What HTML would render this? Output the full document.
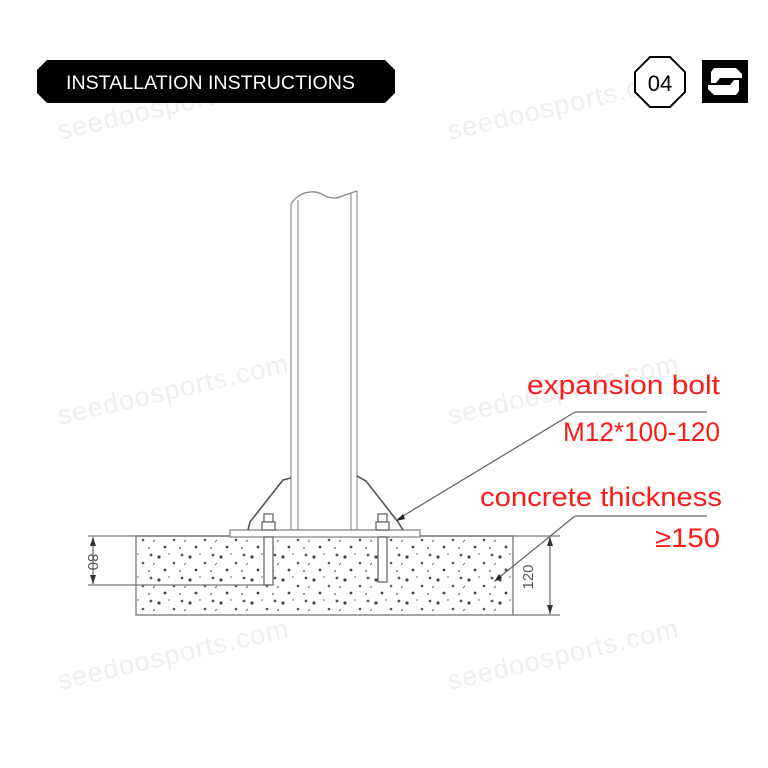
<!DOCTYPE html>
<html><head><meta charset="utf-8"><style>
html,body{margin:0;padding:0;background:#fff;}
body{width:768px;height:768px;overflow:hidden;position:relative;}
svg{position:absolute;left:0;top:0;}
</style></head><body>
<svg width="768" height="768" viewBox="0 0 768 768" xmlns="http://www.w3.org/2000/svg">
<defs>
<pattern id="dots" x="0" y="0" width="31" height="23" patternUnits="userSpaceOnUse">
<circle cx="4" cy="5" r="1.6" fill="#444"/>
<circle cx="19" cy="11" r="1.3" fill="#555"/>
<circle cx="27" cy="3" r="1.4" fill="#555"/>
<circle cx="10" cy="18" r="1.4" fill="#444"/>
<circle cx="25" cy="19" r="1" fill="#777"/>
<circle cx="14" cy="2" r="0.9" fill="#888"/>
<path d="M29 13 l2 -2" stroke="#666" stroke-width="1"/>
</pattern>
</defs>
<g fill="#efefef" font-family="Liberation Sans, sans-serif" font-size="27" letter-spacing="1">
<text x="60" y="140" transform="rotate(-13 60 140)">seedoosports.com</text>
<text x="450" y="140" transform="rotate(-13 450 140)">seedoosports.com</text>
<text x="60" y="425" transform="rotate(-13 60 425)">seedoosports.com</text>
<text x="450" y="425" transform="rotate(-13 450 425)">seedoosports.com</text>
<text x="60" y="690" transform="rotate(-13 60 690)">seedoosports.com</text>
<text x="450" y="690" transform="rotate(-13 450 690)">seedoosports.com</text>
</g>
<polygon points="47,60 385,60 395,70 395,93 385,103 47,103 37,93 37,70" fill="#000"/>
<text x="66" y="89" fill="#fff" font-family="Liberation Sans, sans-serif" font-size="19" textLength="289" lengthAdjust="spacingAndGlyphs">INSTALLATION INSTRUCTIONS</text>
<polygon points="650,57 670,57 685,72 685,92 670,107 650,107 635,92 635,72" fill="#fff" stroke="#000" stroke-width="2"/>
<text x="660" y="91" text-anchor="middle" font-family="Liberation Sans, sans-serif" font-size="22" fill="#000">04</text>
<rect x="702" y="60" width="46" height="43" fill="#000"/>
<polygon points="714,68 736,68 742,74 742,78 720,78 716,83 711,83 711,72" fill="#fff"/>
<polygon points="736,95 714,95 708,89 708,85 730,85 734,80 739,80 739,91" fill="#fff"/>
<rect x="136" y="536" width="377" height="79" fill="url(#dots)" stroke="#888" stroke-width="1.5"/>
<g stroke="#777" stroke-width="1.3" fill="none">
<line x1="88" y1="536" x2="560" y2="536"/>
<line x1="88" y1="585" x2="268" y2="585"/>
<line x1="513" y1="615" x2="560" y2="615"/>
<line x1="93" y1="537" x2="93" y2="584"/>
<line x1="550" y1="537" x2="550" y2="614"/>
</g>
<g fill="#333">
<polygon points="93,537 90,546 96,546"/><polygon points="93,584 90,575 96,575"/>
<polygon points="550,537 547,546 553,546"/><polygon points="550,614 547,605 553,605"/>
</g>
<text x="0" y="0" transform="translate(88,562) rotate(90)" text-anchor="middle" font-family="Liberation Sans, sans-serif" font-size="15" fill="#555">80</text>
<text x="0" y="0" transform="translate(533,577) rotate(-90)" text-anchor="middle" font-family="Liberation Sans, sans-serif" font-size="15" fill="#555">120</text>
<path d="M291,204 Q298,193 310,192 Q318,191 325,196 Q335,200 342,196 L357,191" stroke="#888" stroke-width="1.3" fill="none"/>
<g stroke="#999" stroke-width="1.3" fill="none">
<line x1="291" y1="204" x2="291" y2="530"/>
<line x1="298" y1="200" x2="298" y2="530"/>
<line x1="351" y1="194" x2="351" y2="530"/>
<line x1="357" y1="191" x2="357" y2="530"/>
</g>
<rect x="230" y="530" width="190" height="7" fill="#fff" stroke="#888" stroke-width="1.3"/>
<path d="M291,478 L283,480 L250,522 L248,530" stroke="#555" stroke-width="1.6" fill="none"/>
<path d="M357,476 L366,481 L398,522 L403,530" stroke="#555" stroke-width="1.6" fill="none"/>
<g stroke="#666" stroke-width="1.3" fill="#fff">
<rect x="264" y="514" width="9" height="8"/><rect x="262" y="522" width="13" height="8"/>
<rect x="378" y="514" width="9" height="8"/><rect x="376" y="522" width="13" height="8"/>
<rect x="264" y="537" width="9" height="48"/>
<rect x="378" y="537" width="9" height="45"/>
</g>
<g stroke="#666" stroke-width="1.3" fill="none">
<line x1="575" y1="412" x2="707" y2="412"/>
<line x1="575" y1="412" x2="398" y2="519"/>
<line x1="575" y1="516" x2="707" y2="516"/>
<line x1="575" y1="516" x2="496" y2="580"/>
</g>
<polygon points="396,521 403,514 405,519" fill="#222"/>
<polygon points="494,582 499,574 502,578" fill="#222"/>
<g fill="#ff1a1a" font-family="Liberation Sans, sans-serif" font-size="27">
<text x="527" y="394" textLength="193" lengthAdjust="spacingAndGlyphs">expansion bolt</text>
<text x="563" y="441" textLength="157" lengthAdjust="spacingAndGlyphs">M12*100-120</text>
<text x="480" y="506" textLength="242" lengthAdjust="spacingAndGlyphs">concrete thickness</text>
<text x="655" y="547" textLength="65" lengthAdjust="spacingAndGlyphs">≥150</text>
</g>
</svg>
</body></html>
